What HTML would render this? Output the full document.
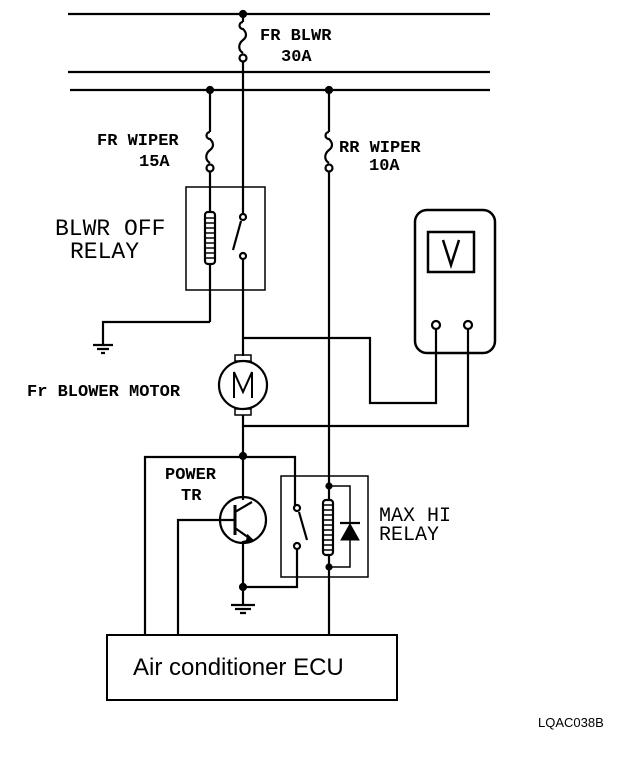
<!DOCTYPE html>
<html><head><style>body{margin:0;background:#fff}svg{display:block}</style></head><body>
<svg width="640" height="758" viewBox="0 0 640 758" xmlns="http://www.w3.org/2000/svg" font-family="Liberation Mono, monospace" fill="none" stroke="#000" stroke-width="2.2">
<line x1="68" y1="14" x2="490" y2="14"/>
<line x1="68" y1="72" x2="490" y2="72"/>
<line x1="70" y1="90" x2="490" y2="90"/>
<circle cx="243" cy="14" r="3" fill="#000"/>
<circle cx="210" cy="90" r="3" fill="#000"/>
<circle cx="329" cy="90" r="3" fill="#000"/>
<path d="M243 14 V22 M243 22 a3 3 0 1 0 0 7 c4 4 4 8 0 11 c-5 4 -5 10 0 13" /><circle cx="243" cy="58" r="3.5" fill="#fff"/>
<line x1="243" y1="62" x2="243" y2="214"/>
<line x1="210" y1="90" x2="210" y2="132"/>
<path d="M210 132 a3 3 0 1 0 0 7 c4 4 4 8 0 11 c-5 4 -5 10 0 13"/><circle cx="210" cy="168" r="3.5" fill="#fff"/>
<line x1="210" y1="172" x2="210" y2="322"/>
<path d="M329 90 V132 M329 132 a3 3 0 1 0 0 7 c4 4 4 8 0 11 c-5 4 -5 10 0 13"/><circle cx="329" cy="168" r="3.5" fill="#fff"/>
<line x1="329" y1="172" x2="329" y2="635"/>
<rect x="186" y="187" width="79" height="103" stroke-width="1.5"/>
<rect x="205" y="212" width="10" height="52" rx="3" fill="#fff"/>
<path d="M206 218h8M206 223h8M206 228h8M206 233h8M206 238h8M206 243h8M206 248h8M206 253h8M206 258h8" stroke-width="1.5"/>
<circle cx="243" cy="217" r="3" fill="#fff"/>
<line x1="241" y1="221" x2="233" y2="250"/>
<circle cx="243" cy="256" r="3" fill="#fff"/>
<line x1="243" y1="259" x2="243" y2="356"/>
<path d="M210 322 H103 V345"/>
<path d="M93 345h20M97 349h12M101 353h4"/>
<circle cx="243" cy="385" r="24"/>
<rect x="235" y="355" width="16" height="6" stroke-width="1.5"/>
<rect x="235" y="409" width="16" height="6" stroke-width="1.5"/>
<path d="M234 398 V372 L243 392 L252 372 V398" stroke-width="2"/>
<line x1="243" y1="415" x2="243" y2="500"/>
<path d="M243 338 H370 V403 H436 V329"/>
<path d="M243 426 H468 V329"/>
<rect x="415" y="210" width="80" height="143" rx="12" stroke-width="2.5"/>
<rect x="428" y="232" width="46" height="40" stroke-width="2.5"/>
<path d="M443 240 L451 265 L459 240" stroke-width="2.5"/>
<circle cx="436" cy="325" r="4" fill="#fff"/>
<circle cx="468" cy="325" r="4" fill="#fff"/>
<circle cx="243" cy="456" r="3" fill="#000"/>
<path d="M145 635 V457 H295 V508"/>
<circle cx="243" cy="520" r="23"/>
<line x1="235" y1="505" x2="235" y2="535" stroke-width="3"/>
<path d="M178 635 V520 H235"/>
<path d="M235 512 L252 502 M235 528 L252 540 L243 542 V587"/>
<path d="M248 536 l4 4 -5 1z" fill="#000"/>
<circle cx="243" cy="587" r="3" fill="#000"/>
<path d="M243 587 H297 V549"/>
<line x1="243" y1="587" x2="243" y2="605"/>
<path d="M231 605h24M235 609h16M240 613h6"/>
<rect x="281" y="476" width="87" height="101" stroke-width="1.5"/>
<circle cx="297" cy="508" r="3" fill="#fff"/>
<line x1="299" y1="512" x2="307" y2="540"/>
<circle cx="297" cy="546" r="3" fill="#fff"/>
<rect x="323" y="500" width="10" height="55" rx="3" fill="#fff"/>
<path d="M324 505h8M324 510h8M324 515h8M324 520h8M324 525h8M324 530h8M324 535h8M324 540h8M324 545h8M324 550h8" stroke-width="1.5"/>
<circle cx="329" cy="486" r="2.5" fill="#000"/>
<circle cx="329" cy="567" r="2.5" fill="#000"/>
<path d="M329 486 H350 V567 H329" stroke-width="1.5"/>
<path d="M341 540 L350 524 L359 540Z" fill="#000" stroke-width="1"/>
<line x1="340" y1="523" x2="360" y2="523"/>
<rect x="107" y="635" width="290" height="65" stroke-width="2"/>
<g fill="#000" stroke="none" font-weight="bold">
<text x="133" y="675" font-family="Liberation Sans, sans-serif" font-weight="normal" font-size="24">Air conditioner ECU</text>
<text x="260" y="40" font-size="17">FR BLWR</text>
<text x="281" y="61" font-size="17">30A</text>
<text x="97" y="145" font-size="17">FR WIPER</text>
<text x="139" y="166" font-size="17">15A</text>
<text x="339" y="152" font-size="17">RR WIPER</text>
<text x="369" y="170" font-size="17">10A</text>
<text x="55" y="235" font-size="23" font-weight="normal">BLWR OFF</text>
<text x="70" y="258" font-size="23" font-weight="normal">RELAY</text>
<text x="27" y="396" font-size="17">Fr BLOWER MOTOR</text>
<text x="165" y="479" font-size="17">POWER</text>
<text x="181" y="500" font-size="17">TR</text>
<text x="379" y="521" font-size="20" font-weight="normal">MAX HI</text>
<text x="379" y="540" font-size="20" font-weight="normal">RELAY</text>
<text x="538" y="727" font-family="Liberation Sans, sans-serif" font-size="13" font-weight="normal">LQAC038B</text>
</g>
</svg>
</body></html>
